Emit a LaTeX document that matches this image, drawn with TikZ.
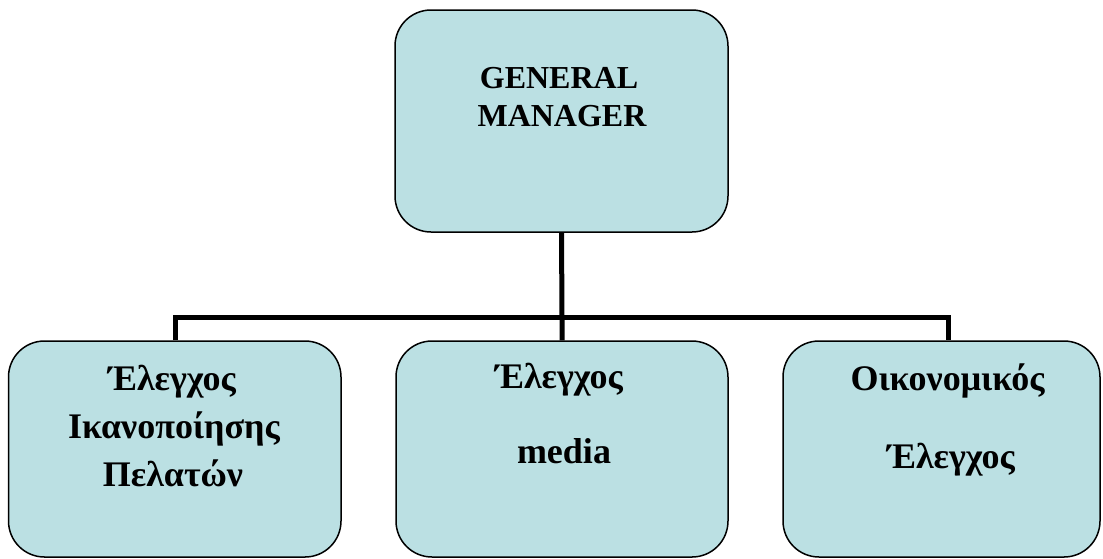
\documentclass[tikz,border=0pt]{standalone}
\usepackage{fontspec}
\setmainfont{Liberation Serif}
\definecolor{boxblue}{HTML}{BBE0E3}
\newcommand{\fsz}[1]{\fontsize{#1}{#1}\selectfont}
\begin{document}
\begin{tikzpicture}[x=1pt,y=-1pt,
  box/.style={draw=black, line width=1.5pt, fill=boxblue, rounded corners=36pt, inner sep=0pt},
  conn/.style={draw=black, line width=5pt},
  lbl/.style={anchor=base, inner sep=0pt, font=\bfseries},
  big/.style={font=\bfseries\fsz{36}}]
\useasboundingbox (0,0) rectangle (1103,558);
% boxes
\node[box, minimum width=333pt, minimum height=222pt] (gm) at (561.5,121) {};
\node[box, minimum width=332.5pt, minimum height=216pt] (left) at (174.75,449) {};
\node[box, minimum width=332pt, minimum height=216pt] (mid) at (562,449) {};
\node[box, minimum width=317pt, minimum height=216pt] (right) at (941.5,449) {};
% connectors
\coordinate (bus) at (562,317.5);
\coordinate (lt) at (175.5,317.5);
\coordinate (rt) at (948.5,317.5);
\draw[conn] (gm.south) -- (bus) -- (mid.north);
\draw[conn] (left.north -| lt) -- (lt) -- (rt) -- (right.north -| rt);
% texts
\node[lbl, font=\bfseries\fsz{32}] (gm1) at (559,88) {GENERAL};
\node[lbl, font=\bfseries\fsz{32}] (gm2) at (562,126) {MANAGER};
\node[lbl, big] (l1) at (172,390) {Έλεγχος};
\node[lbl, big] (l2) at (174,438) {Ικανοποίησης};
\node[lbl, big] (l3) at (173,486) {Πελατών};
\node[lbl, big] (m1) at (559,388) {Έλεγχος};
\node[lbl, big] (m2) at (564,463) {media};
\node[lbl, big] (r1) at (947.5,390) {Οικονομικός};
\node[lbl, big] (r2) at (951,468) {Έλεγχος};
\end{tikzpicture}
\end{document}
